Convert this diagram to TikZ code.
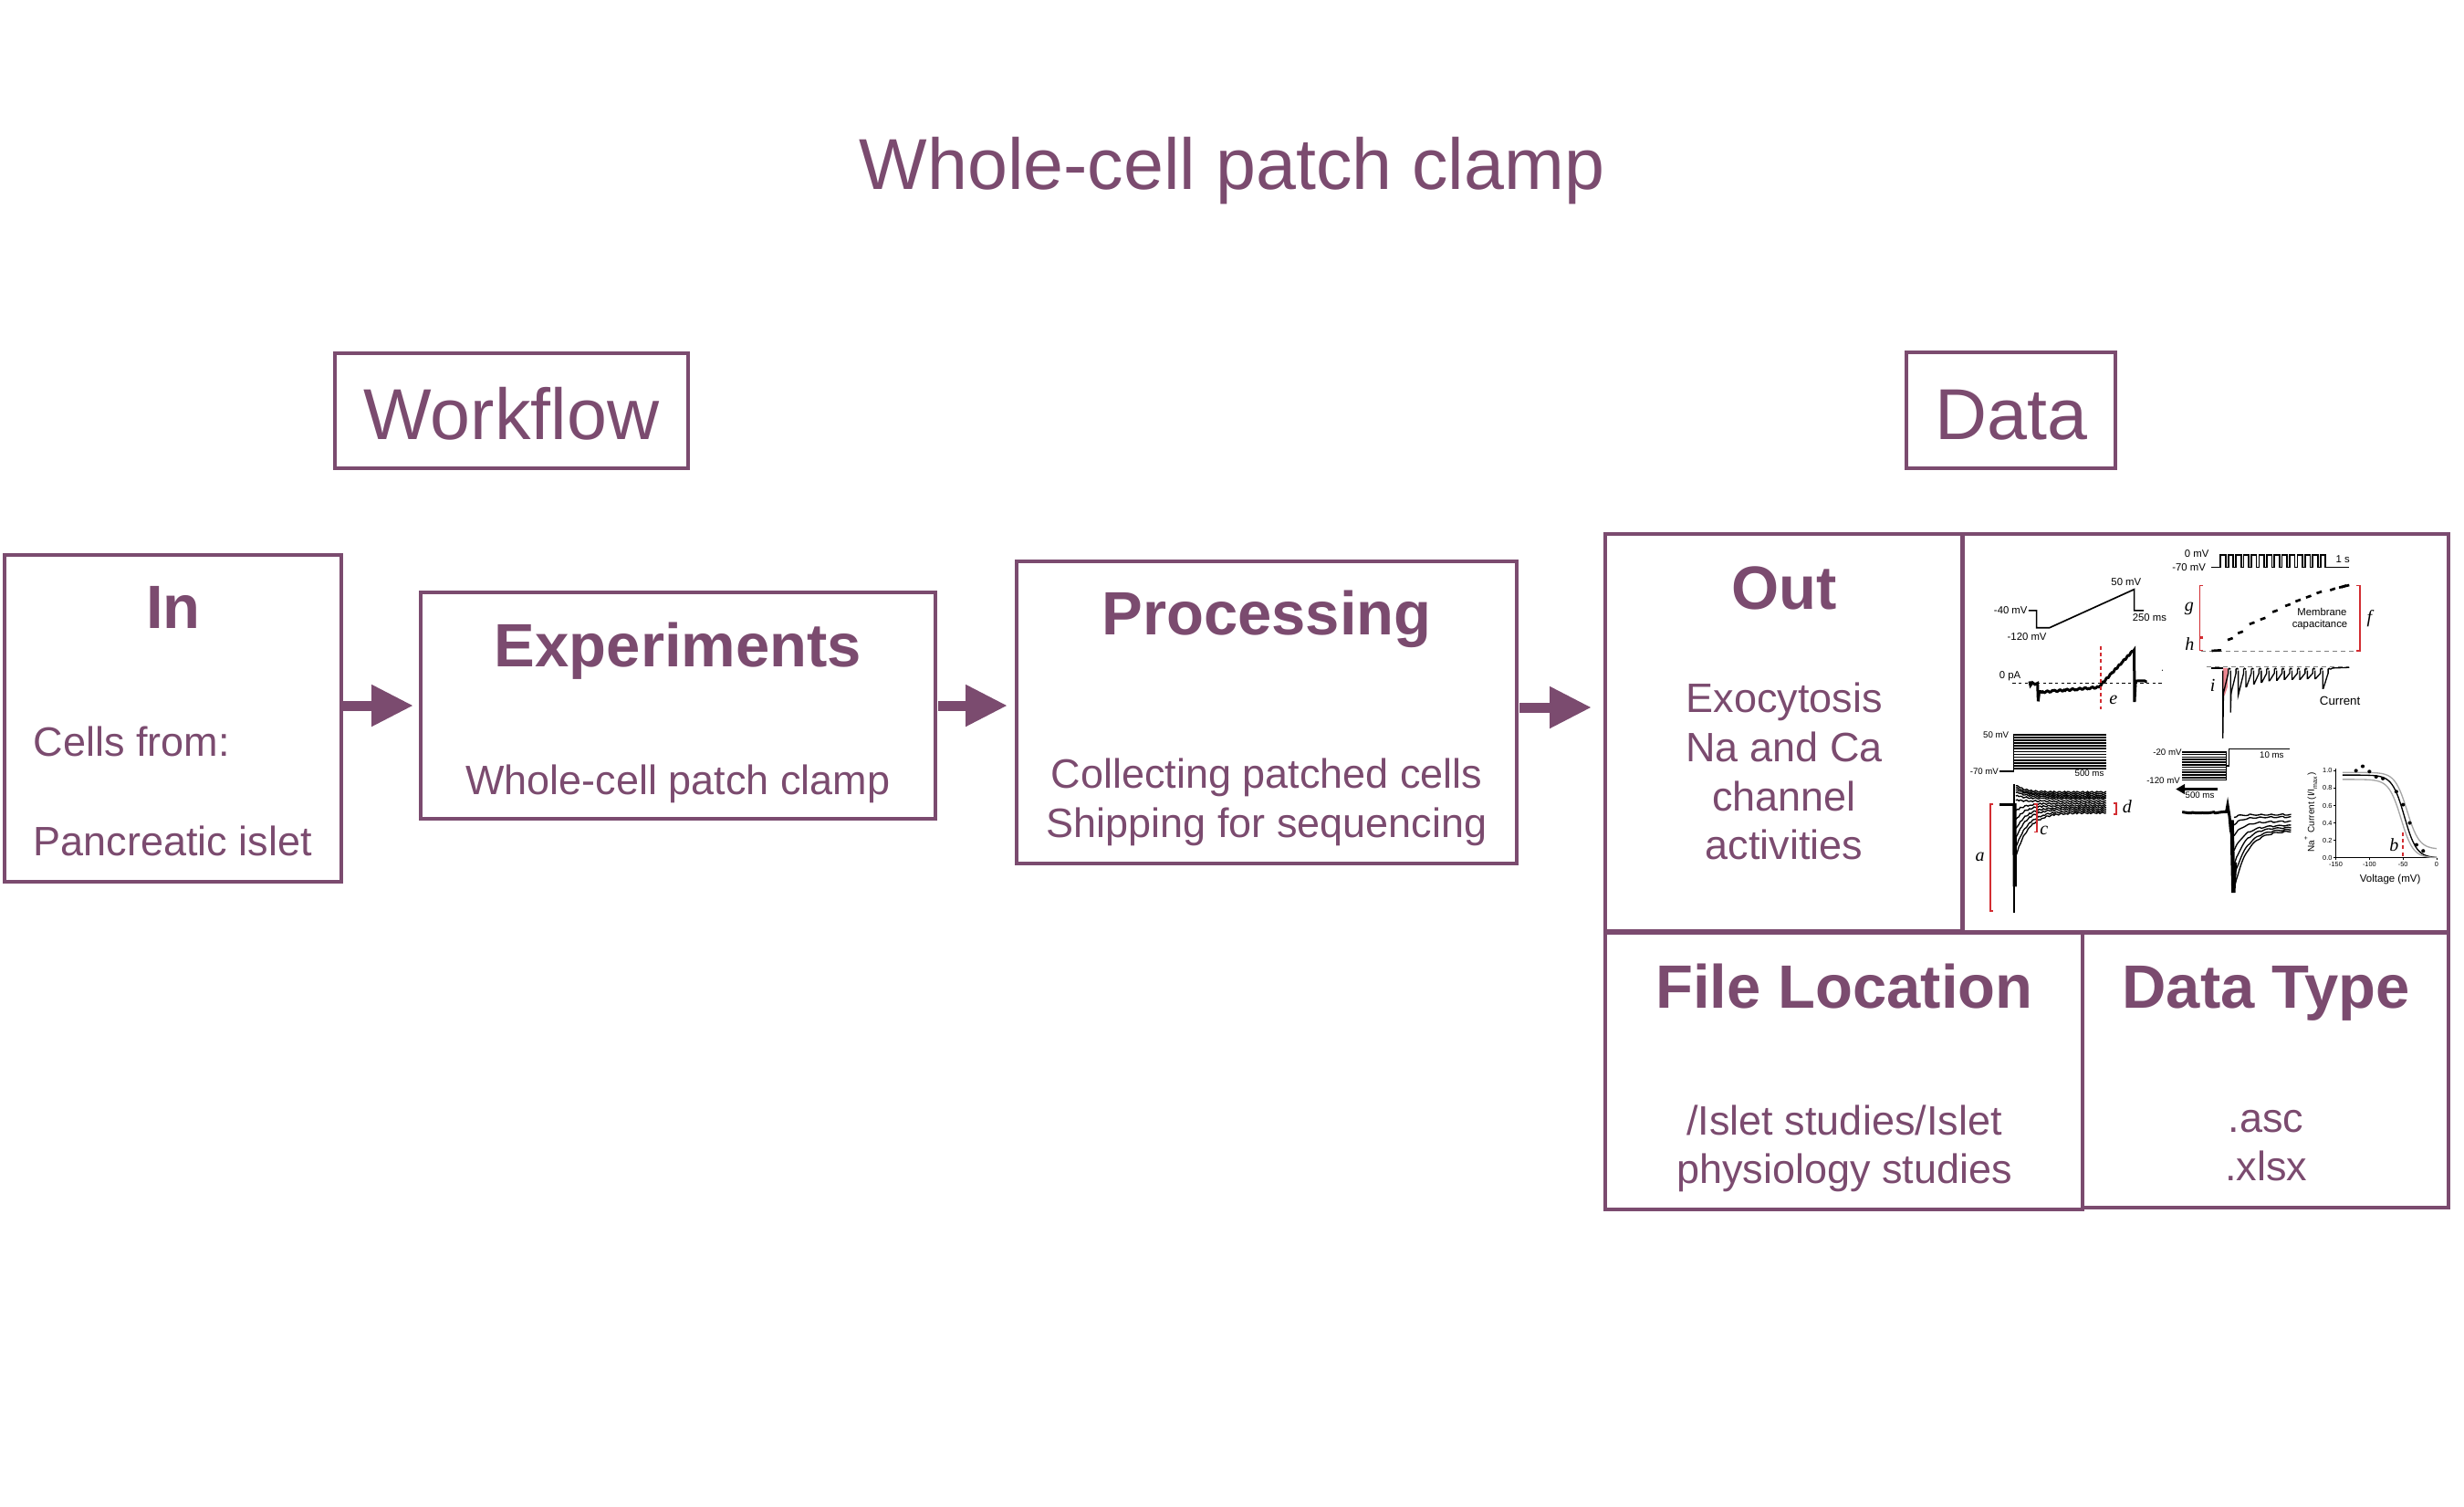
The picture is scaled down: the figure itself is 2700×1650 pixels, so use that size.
\documentclass[tikz,border=0pt]{standalone}
\usepackage{fontspec}
\setmainfont{Liberation Sans}
\newfontfamily\tnr{Liberation Serif}
\usetikzlibrary{arrows.meta}
\definecolor{plum}{RGB}{123,75,111}
\definecolor{fred}{RGB}{210,45,50}
\definecolor{fpink}{RGB}{236,135,145}
\begin{document}
\begin{tikzpicture}[x=0.3pt,y=-0.3pt,
 box/.style={draw=plum,line width=1.2pt,inner sep=0pt,outer sep=0pt},
 ttl/.style={text=plum,font=\fontsize{23.7}{28}\selectfont,anchor=base,inner sep=0pt},
 hd/.style={text=plum,font=\bfseries\fontsize{20.1}{24}\selectfont,anchor=base,inner sep=0pt},
 bd/.style={text=plum,font=\fontsize{13.5}{16}\selectfont,anchor=base,inner sep=0pt},
 flow/.style={draw=plum,line width=3.3pt,-{Triangle[length=13.8pt,width=12.9pt]}},
 lab/.style={font=\fontsize{3.4}{3.8}\selectfont,inner sep=0pt},
 labs/.style={font=\fontsize{2.9}{3.2}\selectfont,inner sep=0pt},
 tick/.style={font=\fontsize{2.2}{2.5}\selectfont,inner sep=0pt},
 lbl/.style={font=\tnr\itshape\fontsize{6}{7}\selectfont,inner sep=0pt},
 prot/.style={line width=0.5pt},
 tr/.style={line width=0.3pt},
 trd/.style={line width=0.4pt},
 thk/.style={line width=0.9pt},
 rb/.style={draw=fred,line width=0.5pt},
 rd/.style={draw=fred,line width=0.6pt,dash pattern=on 1.2pt off 1pt}]
\useasboundingbox (0,0) rectangle (2700,1650);

% title and section labels
\node[ttl] (title) at (1350,207) {Whole-cell patch clamp};
\node[box,minimum width=116.1pt,minimum height=37.8pt] (wf) at (560.5,450) {};
\node[ttl] (wft) at (560.5,481) {Workflow};
\node[box,minimum width=68.7pt,minimum height=38.1pt] (dt) at (2203.5,449.5) {};
\node[ttl] (dtt) at (2203.5,481) {Data};

% workflow boxes
\node[box,minimum width=110.7pt,minimum height=107.4pt] (in) at (189.5,787) {};
\node[hd] (inh) at (190,688) {In};
\node[bd,anchor=base west] (in1) at (36,828) {Cells from:};
\node[bd,anchor=base west] (in2) at (36,937) {Pancreatic islet};

\node[box,minimum width=169.2pt,minimum height=74.4pt] (exp) at (743,773) {};
\node[hd] (exph) at (743,730) {Experiments};
\node[bd] (exp1) at (743,870) {Whole-cell patch clamp};

\node[box,minimum width=164.4pt,minimum height=99.3pt] (proc) at (1388,780.5) {};
\node[hd] (proch) at (1388,695) {Processing};
\node[bd] (proc1) at (1388,863) {Collecting patched cells};
\node[bd] (proc2) at (1388,917) {Shipping for sequencing};

\node[box,minimum width=117.3pt,minimum height=130.5pt] (out) at (1954.5,802.5) {};
\node[hd] (outh) at (1955,667) {Out};
\node[bd] (out1) at (1955,780) {Exocytosis};
\node[bd] (out2) at (1955,834) {Na and Ca};
\node[bd] (out3) at (1955,888) {channel};
\node[bd] (out4) at (1955,941) {activities};

\node[box,minimum width=159.6pt,minimum height=130.8pt] (img) at (2417,803) {};

\node[box,minimum width=156.9pt,minimum height=90.9pt] (loc) at (2020.5,1173.5) {};
\node[hd] (loch) at (2021,1104) {File Location};
\node[bd] (loc1) at (2021,1243) {/Islet studies/Islet};
\node[bd] (loc2) at (2021,1296) {physiology studies};

\node[box,minimum width=120.3pt,minimum height=90.3pt] (typ) at (2482.5,1172.5) {};
\node[hd] (typh) at (2483,1104) {Data Type};
\node[bd] (typ1) at (2483,1240) {.asc};
\node[bd] (typ2) at (2483,1293) {.xlsx};

% arrows
\coordinate (r1) at (0,773);
\coordinate (r3) at (0,775);
\draw[flow,shorten >=2.4pt] (in.east |- r1) -- (exp.west |- r1);
\draw[flow,shorten <=0.9pt,shorten >=3pt] (exp.east |- r1) -- (proc.west |- r1);
\draw[flow,shorten <=0.9pt,shorten >=4.5pt] (proc.east |- r3) -- (out.west |- r3);

% ---------- data figure ----------
\begin{scope}[shift={(2149.2,580)},xscale=0.3507,yscale=0.3316]
% panel 1: ramp protocol
\draw[prot] (210,268) -- (235,268) -- (235,325) -- (275,325) -- (540,198) -- (540,268) -- (570,268);
\node[lab,anchor=east] at (208,268) {-40 mV};
\node[lab] at (205,355) {-120 mV};
\node[lab] at (515,175) {50 mV};
\node[lab] at (588,292) {250 ms};
% panel 2: ramp current
\draw[tr,dash pattern=on 1pt off 1pt] (160,508) -- (630,508);
\node[lab] at (152,485) {0 pA};
\draw[thk] (213,502) -- (216,515) -- (222,506) -- (230,512) -- (238,508) -- (240,568) -- (243,538)
  -- plot[domain=245:425,samples=60] (\x,{538-(\x-245)*0.09+2.5*sin(mod(\x,36)*97)})
  -- plot[domain=428:538,samples=40] (\x,{522-(\x-428)*1.12+2.5*sin(mod(\x,36)*97)})
  -- (540,398) -- (541,570) -- (544,505)
  -- plot[domain=546:580,samples=10] (\x,{502+2*sin(mod(\x,36)*97)});
\fill (628,465) circle (2);
\draw[rd] (437,385) -- (437,595);
\node[lbl] at (475,565) {e};
% panel 3: pulse train protocol
\draw[prot] (780,125) -- (810,125)
  \foreach \k in {0,...,13} { -- ({810+\k*24},85) -- ({826+\k*24},85) -- ({826+\k*24},125) -- ({834+\k*24},125) }
  -- (1212,125);
\node[lab,anchor=east] at (775,80) {0 mV};
\node[lab,anchor=east] at (765,125) {-70 mV};
\node[lab] at (1192,97) {1 s};
% panel 4: membrane capacitance
\draw[gray,tr,dash pattern=on 1.5pt off 1.2pt] (750,402) -- (1245,402);
\draw[line width=0.8pt] (782,401) -- (812,399);
\foreach \px/\py in {840/362,872/340,908/310,942/295,980/270,1020/250,1052/235,1085/222,1118/208,1160/198,1195/188}
  \draw[line width=0.8pt] (\px-8,\py+3) -- (\px+8,\py-3);
\draw[line width=0.8pt] (1180,192) -- (1212,184);
\draw[rb] (755,185) -- (745,185) -- (745,355) -- (755,355);
\draw[rb] (755,360) -- (745,360) -- (745,400) -- (755,400);
\draw[rb] (1235,185) -- (1245,185) -- (1245,402) -- (1235,402);
\node[lbl] at (712,262) {g};
\node[lbl] at (713,378) {h};
\node[lbl] at (1275,295) {f};
\node[lab] at (1127,273) {Membrane};
\node[lab] at (1120,316) {capacitance};
% panel 5: current during train
\draw[gray,tr,dash pattern=on 1.5pt off 1.2pt] (765,455) -- (1210,455);
\fill[fpink] (818,458) -- (832,458) -- (832,520) -- (824,545) -- (818,555) -- cycle;
\draw[trd] (780,458) -- (817,458);
\foreach \d [count=\k from 0] in {690,605,548,520,510,505,500,498,495,495,495,493,493,525}
  \draw[trd] ({817+\k*24},466) -- ({817+\k*24},\d) -- ({819+\k*24},{min(\d,540)})
    -- ({834+\k*24},475) -- ({834+\k*24},462) .. controls ({837+\k*24},458) .. ({841+\k*24},462);
\draw[trd] (1153,462) -- (1160,458) -- (1212,456);
\node[lbl] at (785,515) {i};
\node[font=\fontsize{4}{4.5}\selectfont,inner sep=0pt] at (1183,568) {Current};
% panel 6: step protocol
\draw[prot] (120,800) -- (163,800) -- (163,678);
\foreach \k in {0,...,12} \draw[prot] (163,{678+\k*9.33}) -- (452,{678+\k*9.33});
\node[labs,anchor=east] at (150,680) {50 mV};
\node[labs,anchor=east] at (118,800) {-70 mV};
\node[labs] at (400,805) {500 ms};
% panel 7: step currents
\foreach \a/\b/\t in {845/868/30,852/874/30,860/880/40,868/885/40,880/890/40,895/898/40,930/905/30,960/912/30,990/918/35,1020/924/35,1050/930/40,1080/936/40}
  \draw[trd] plot[domain=170:452,samples=60] (\x,{\b+(\a-\b)*exp(-(\x-170)/\t)+2.5*sin(mod(\x,36)*97+\a)});
\draw[thk] (120,908) -- (165,908);
\draw[line width=0.6pt] (165,840) -- (165,1265);
\draw[line width=1.3pt] (166,905) -- (167,1180);
\draw[rb] (100,908) -- (90,908) -- (90,1260) -- (100,1260);
\draw[rb] (228,908) -- (236,908) -- (236,1000) -- (228,1000);
\draw[rb] (476,905) -- (485,905) -- (485,940) -- (476,940);
\node[lbl] at (58,1083) {a};
\node[lbl] at (258,995) {c};
\node[lbl] at (518,915) {d};
% panel 8: inactivation protocol
\foreach \k in {0,...,11} \draw[prot] (690,{735+\k*8.45}) -- (828,{735+\k*8.45});
\draw[prot] (828,735) -- (828,828);
\draw[prot] (828,780) -- (836,780) -- (836,725) -- (1025,725);
\node[labs,anchor=east] at (690,735) {-20 mV};
\node[labs,anchor=east] at (685,830) {-120 mV};
\node[labs] at (970,745) {10 ms};
\draw[line width=0.8pt,-{Triangle[length=3pt,width=3.2pt]}] (800,858) -- (670,858);
\node[labs] at (745,878) {500 ms};
% panel 9: Na currents
\foreach \a/\b/\t in {950/942/20,975/950/25,1010/965/30,1060/978/35,1110/985/35,1150/990/40,1190/995/40}
  \draw[trd] plot[domain=852:1030,samples=45] (\x,{\b+(\a-\b)*exp(-(\x-852)/\t)+2*sin(mod(\x,36)*97+\a)});
\draw[thk] plot[domain=690:828,samples=40] (\x,{935+2*sin(mod(\x,36)*97)}) -- (832,910) -- (838,950) -- (842,1000);
\draw[line width=1.3pt] (845,960) -- (850,1200) -- (855,1100);
% panel 10: inactivation curve
\draw[tr] (1170,790) -- (1170,1085) -- (1485,1085);
\foreach \k/\t in {0/0.0,1/0.2,2/0.4,3/0.6,4/0.8,5/1.0} {
  \draw[tr] (1164,{1085-\k*57.6}) -- (1170,{1085-\k*57.6});
  \node[tick,anchor=east] at (1160,{1085-\k*57.6}) {\t};
}
\foreach \v in {-150,-100,-50,0} {
  \draw[tr] ({1170+2.1*(\v+150)},1085) -- ({1170+2.1*(\v+150)},1091);
  \node[tick] at ({1170+2.1*(\v+150)},1106) {\v};
}
\draw[gray!70,line width=0.4pt] plot[domain=-140:0,samples=60] ({1170+2.1*(\x+150)},{1085-288*(0.1+0.88/(1+exp((\x+44)/9)))});
\draw[black,line width=0.4pt] plot[domain=-140:0,samples=60] ({1170+2.1*(\x+150)},{1085-288*(0.95/(1+exp((\x+48)/9)))});
\draw[gray!70,line width=0.4pt] plot[domain=-140:0,samples=60] ({1170+2.1*(\x+150)},{1085-288*(0.9/(1+exp((\x+53)/9)))});
\foreach \v/\i in {-120/1.0,-110/1.05,-100/0.99,-90/0.93,-80/0.91,-60/0.76,-50/0.61,-40/0.40,-30/0.15,-20/0.08}
  \fill ({1170+2.1*(\v+150)},{1085-288*\i}) circle (6);
\draw[rd] (1380,1000) -- (1380,1085);
\node[lbl] at (1352,1043) {b};
\node[font=\fontsize{3.45}{4}\selectfont,inner sep=0pt] at (1340,1155) {Voltage (mV)};
\node[font=\fontsize{3}{3.4}\selectfont,inner sep=0pt,rotate=90] at (1092,935) {Na\textsuperscript{+} Current (I/I\textsubscript{max})};
\end{scope}
\end{tikzpicture}
\end{document}
